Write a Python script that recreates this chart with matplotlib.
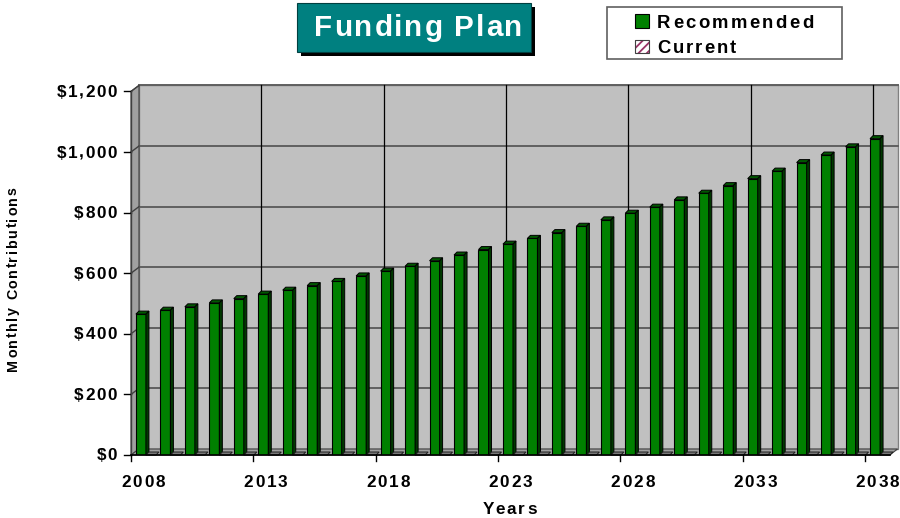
import matplotlib
matplotlib.use("Agg")
import matplotlib.pyplot as plt
from matplotlib.patches import Rectangle, Polygon
from matplotlib.font_manager import FontProperties

# ---------------- data ----------------
years = list(range(2008, 2039))
recommended = [465, 478, 489, 502, 516, 531, 544, 559, 573, 591, 607, 623, 641, 660,
               678, 696, 715, 734, 755, 776, 798, 818, 842, 864, 889, 912, 937, 965,
               990, 1017, 1044]
current = [0] * len(years)
y_ticks = [0, 200, 400, 600, 800, 1000, 1200]
y_tick_labels = ["$0", "$200", "$400", "$600", "$800", "$1,000", "$1,200"]
x_label_years = [2008, 2013, 2018, 2023, 2028, 2033, 2038]
title = "Funding Plan"
series_names = ["Recommended", "Current"]

W, H = 900, 518
matplotlib.rcParams["hatch.linewidth"] = 1.3
fig = plt.figure(figsize=(W / 100, H / 100), dpi=100)
fig.patch.set_facecolor("white")

FAM = ["Liberation Sans", "DejaVu Sans"]

# front plane of plot area (image pixel coords)
L, R, T, B = 131.0, 889.6, 91.4, 455.0
ax = fig.add_axes([L / W, (H - B) / H, (R - L) / W, (B - T) / H])
n = len(years)
ax.set_xlim(0, n)
ax.set_ylim(0, 1200)
ax.axis("off")

sx = (R - L) / n          # px per category
sy = (B - T) / 1200.0     # px per dollar
WDX, WDY = 8.0, 6.0       # wall depth in px
BDX, BDY = 3.0, 3.0       # bar depth in px
wdx, wdy = WDX / sx, WDY / sy
bdx, bdy = BDX / sx, BDY / sy

def poly(pts, **kw):
    p = Polygon(pts, closed=True, **kw)
    p.set_clip_on(False)
    ax.add_patch(p)
    return p

# back wall
poly([(wdx, wdy), (n + wdx, wdy), (n + wdx, 1200 + wdy), (wdx, 1200 + wdy)],
     facecolor="#C0C0C0", edgecolor="#808080", lw=1.0, zorder=1)
# left side wall
poly([(0, 0), (wdx, wdy), (wdx, 1200 + wdy), (0, 1200)],
     facecolor="#A0A0A0", edgecolor="#404040", lw=0.8, zorder=1.5)
# floor
poly([(0, 0), (n, 0), (n + wdx, wdy), (wdx, wdy)],
     facecolor="#A0A0A0", edgecolor="#404040", lw=0.8, zorder=1.5)

# horizontal gridlines on back wall + diagonal on side wall + tick marks
for v in y_ticks[1:]:
    ax.plot([wdx, n + wdx], [v + wdy, v + wdy], color="#606060", lw=1.4, zorder=2, clip_on=False)
    ax.plot([0, wdx], [v, v + wdy], color="#404040", lw=1.0, zorder=2, clip_on=False)
for v in y_ticks:
    ax.plot([-7 / sx, 0], [v, v], color="black", lw=1.0, zorder=3, clip_on=False)
# vertical gridlines on back wall
for k in range(5, n, 5):
    ax.plot([k + wdx, k + wdx], [wdy, 1200 + wdy], color="black", lw=0.9, zorder=2, clip_on=False)

# x axis line and ticks
ax.plot([0, n], [0, 0], color="black", lw=1.2, zorder=6, clip_on=False)
for k in range(0, n + 1, 5):
    ax.plot([k, k], [0, -6 / sy], color="black", lw=1.0, zorder=6, clip_on=False)
ax.plot([0, 0], [0, 1200], color="#404040", lw=1.0, zorder=3, clip_on=False)

# bars
g_off, g_w = 0.20, 0.41
c_off, c_w = 0.61, 0.41
for i in range(n):
    h = recommended[i]
    x0 = i + g_off
    x1 = x0 + g_w
    ax.bar([x0], [h], width=g_w, align="edge", color="#008000", edgecolor="black",
           lw=0.8, zorder=4 + i * 0.01)
    poly([(x0, h), (x1, h), (x1 + bdx, h + bdy), (x0 + bdx, h + bdy)],
         facecolor="#005800", edgecolor="black", lw=0.7, zorder=4 + i * 0.01)
    poly([(x1, 0), (x1 + bdx, bdy), (x1 + bdx, h + bdy), (x1, h)],
         facecolor="#003800", edgecolor="black", lw=0.7, zorder=4 + i * 0.01)
    # current (zero height slab)
    hc = current[i]
    c0 = i + c_off
    c1 = c0 + c_w
    ax.bar([c0], [hc], width=c_w, align="edge", color="#707070", edgecolor="#202020",
           lw=0.8, zorder=4.005 + i * 0.01)
    poly([(c0, hc), (c1, hc), (c1 + bdx, hc + bdy), (c0 + bdx, hc + bdy)],
         facecolor="#787878", edgecolor="#202020", lw=0.7, zorder=4.005 + i * 0.01)

# ---------------- spaced text helper ----------------
renderer = fig.canvas.get_renderer()

def tw(s, fp):
    if not s:
        return 0.0
    return renderer.get_text_width_height_descent(s, fp, ismath=False)[0]

def spaced(x, y, s, spacing, size, ha="left", rot=0, color="black", weight="bold", z=20):
    fp = FontProperties(family=FAM, weight=weight, size=size)
    ref = tw("H", fp)
    pos = [tw(s[:i] + "H", fp) - ref if i > 0 else 0.0 for i in range(len(s))]
    total = pos[-1] + tw(s[-1], fp) + spacing * (len(s) - 1)
    if ha == "center":
        start = -total / 2
    elif ha == "right":
        start = -total
    else:
        start = 0.0
    for i, ch in enumerate(s):
        if ch == " ":
            continue
        off = start + pos[i] + i * spacing
        if rot == 0:
            fx, fy = (x + off) / W, (H - y) / H
        else:
            fx, fy = x / W, (H - (y - off)) / H
        fig.text(fx, fy, ch, fontproperties=fp, color=color, ha="left", va="baseline",
                 rotation=rot, rotation_mode="anchor", zorder=z)

# y tick labels
for v, lab in zip(y_ticks, y_tick_labels):
    ty = B - v * sy
    spaced(117, ty + 5.5, lab, 1.6, 12.3, ha="right")

# x tick labels (centered on category)
for yr in x_label_years:
    i = years.index(yr)
    cx = L + (i + 0.5) * sx
    spaced(cx, 487, str(yr), 2.0, 12.3, ha="center")

spaced(509.5, 514, "Years", 2.2, 12.3, ha="center")
spaced(17, 371, "Monthly Contributions", 1.6, 10.3, ha="left", rot=90)

# title box
fig.patches.append(Rectangle((301 / W, (H - 56) / H), 234 / W, 49 / H, transform=fig.transFigure,
                             facecolor="black", edgecolor="none", zorder=5))
fig.patches.append(Rectangle((297 / W, (H - 52) / H), 234 / W, 49 / H, transform=fig.transFigure,
                             facecolor="#008080", edgecolor="#004040", lw=0.8, zorder=6))
spaced(418.5, 36, title, 1.8, 21.3, ha="center", color="white")

# legend
fig.patches.append(Rectangle((607 / W, (H - 59) / H), 235 / W, 52 / H, transform=fig.transFigure,
                             facecolor="white", edgecolor="#606060", lw=1.2, zorder=5))
fig.patches.append(Rectangle((635 / W, (H - 28) / H), 14 / W, 14 / H, transform=fig.transFigure,
                             facecolor="#008000", edgecolor="black", lw=0.8, zorder=6))
fig.patches.append(Rectangle((635 / W, (H - 53) / H), 14 / W, 13 / H, transform=fig.transFigure,
                             facecolor="white", edgecolor="#993366", hatch="////", lw=0, zorder=6))
fig.patches.append(Rectangle((635 / W, (H - 53) / H), 14 / W, 13 / H, transform=fig.transFigure,
                             facecolor="none", edgecolor="#404040", lw=0.8, zorder=7))
spaced(657, 28, series_names[0], 2.4, 13.3)
spaced(657, 53, series_names[1], 2.0, 13.3)

fig.savefig("out.png", dpi=100)
